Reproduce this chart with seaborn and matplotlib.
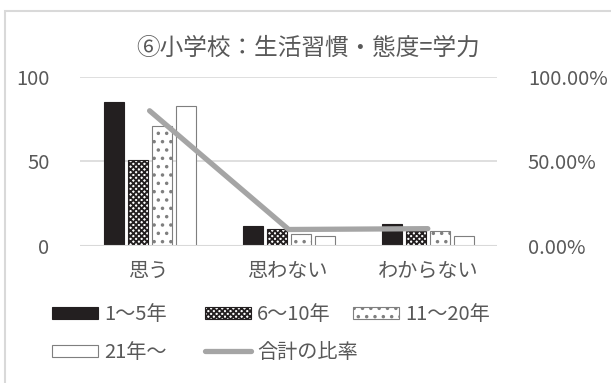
import numpy as np
import pandas as pd
import matplotlib
matplotlib.use("Agg")
import matplotlib.pyplot as plt
import seaborn as sns
from matplotlib.patches import Rectangle, Patch
from matplotlib.lines import Line2D

# データ
categories = ["思う", "思わない", "わからない"]
groups = ["1～5年", "6～10年", "11～20年", "21年～"]
v_1_5 = [85, 12, 13]
v_6_10 = [51, 10, 9]
v_11_20 = [71, 7, 9]
v_21 = [83, 6, 6]
ratio = [0.80, 0.097, 0.102]
line_name = "合計の比率"
title = "⑥小学校：生活習慣・態度=学力"

sns.set_theme(style="white")
plt.rcParams["font.family"] = ["Noto Sans CJK JP", "DejaVu Sans"]
plt.rcParams["hatch.linewidth"] = 1.3

txt = "#595959"
grid = "#d9d9d9"

rows = []
for g, vals in zip(groups, [v_1_5, v_6_10, v_11_20, v_21]):
    for c, v in zip(categories, vals):
        rows.append({"cat": c, "grp": g, "val": v})
df = pd.DataFrame(rows)

fig = plt.figure(figsize=(6.11, 3.83), dpi=100)
ax = fig.add_axes([0.131, 0.358, 0.683, 0.441])

fills = ["#231f20", "white", "white", "white"]
edges = ["#231f20", "#231f20", "#7f7f7f", "#7f7f7f"]
hatches = ["", "xxxxxx", "..", ""]

sns.barplot(data=df, x="cat", y="val", hue="grp", order=categories, hue_order=groups,
            width=0.69, gap=0.17, palette=fills, legend=False, ax=ax, zorder=3)

for i, cont in enumerate(ax.containers):
    for p in cont:
        p.set_facecolor(fills[i])
        p.set_edgecolor(edges[i])
        p.set_hatch(hatches[i])
        p.set_linewidth(0.8)

ax.set_ylim(0, 100)
ax.set_yticks([0, 50, 100])
ax.set_xlim(-0.5, 2.5)
ax.yaxis.grid(True, color=grid, linewidth=1.2, zorder=0)
ax.set_axisbelow(True)
for s in ax.spines.values():
    s.set_visible(False)
ax.axhline(0, color=grid, linewidth=1.5, zorder=4)
ax.set_xlabel("")
ax.set_ylabel("")
ax.tick_params(axis="both", length=0, labelsize=14.5, colors=txt)
ax.tick_params(axis="y", pad=22)
ax.tick_params(axis="x", pad=11)

ax2 = ax.twinx()
sns.lineplot(x=[0, 1, 2], y=ratio, ax=ax2, color="#a5a5a5", linewidth=3.8,
             solid_capstyle="round", legend=False, zorder=5)
ax2.set_ylim(0, 1)
ax2.set_yticks([0, 0.5, 1])
ax2.set_yticklabels(["0.00%", "50.00%", "100.00%"])
for s in ax2.spines.values():
    s.set_visible(False)
ax2.tick_params(axis="y", length=0, labelsize=14.5, colors=txt, pad=22)
ax2.set_ylabel("")

fig.text(0.505, 0.875, title, ha="center", va="center", fontsize=17, color=txt)

handles = [Patch(facecolor=fills[i], edgecolor=edges[i], hatch=hatches[i], linewidth=0.8)
           for i in range(4)]
handles.append(Line2D([0], [0], color="#a5a5a5", linewidth=3.8, solid_capstyle="round"))
labels = groups + [line_name]

# Excelの凡例は等間隔の列なので列ごとに配置
cols = [[0, 3], [1, 4], [2]]
xs = [52 / 611, 205 / 611, 353 / 611]
for idx, x0 in zip(cols, xs):
    leg = fig.legend([handles[i] for i in idx], [labels[i] for i in idx],
                     loc="upper left", bbox_to_anchor=(x0, 0.207), frameon=False,
                     fontsize=14.5, handlelength=2.3, handleheight=0.55, handletextpad=0.3,
                     labelspacing=0.85, borderpad=0, borderaxespad=0)
    for t in leg.get_texts():
        t.set_color(txt)

fig.patches.append(Rectangle((0.008, -0.05), 1.1, 1.02, transform=fig.transFigure,
                             fill=False, edgecolor="#d9d9d9", linewidth=1.5))

fig.savefig("out.png", dpi=100)
